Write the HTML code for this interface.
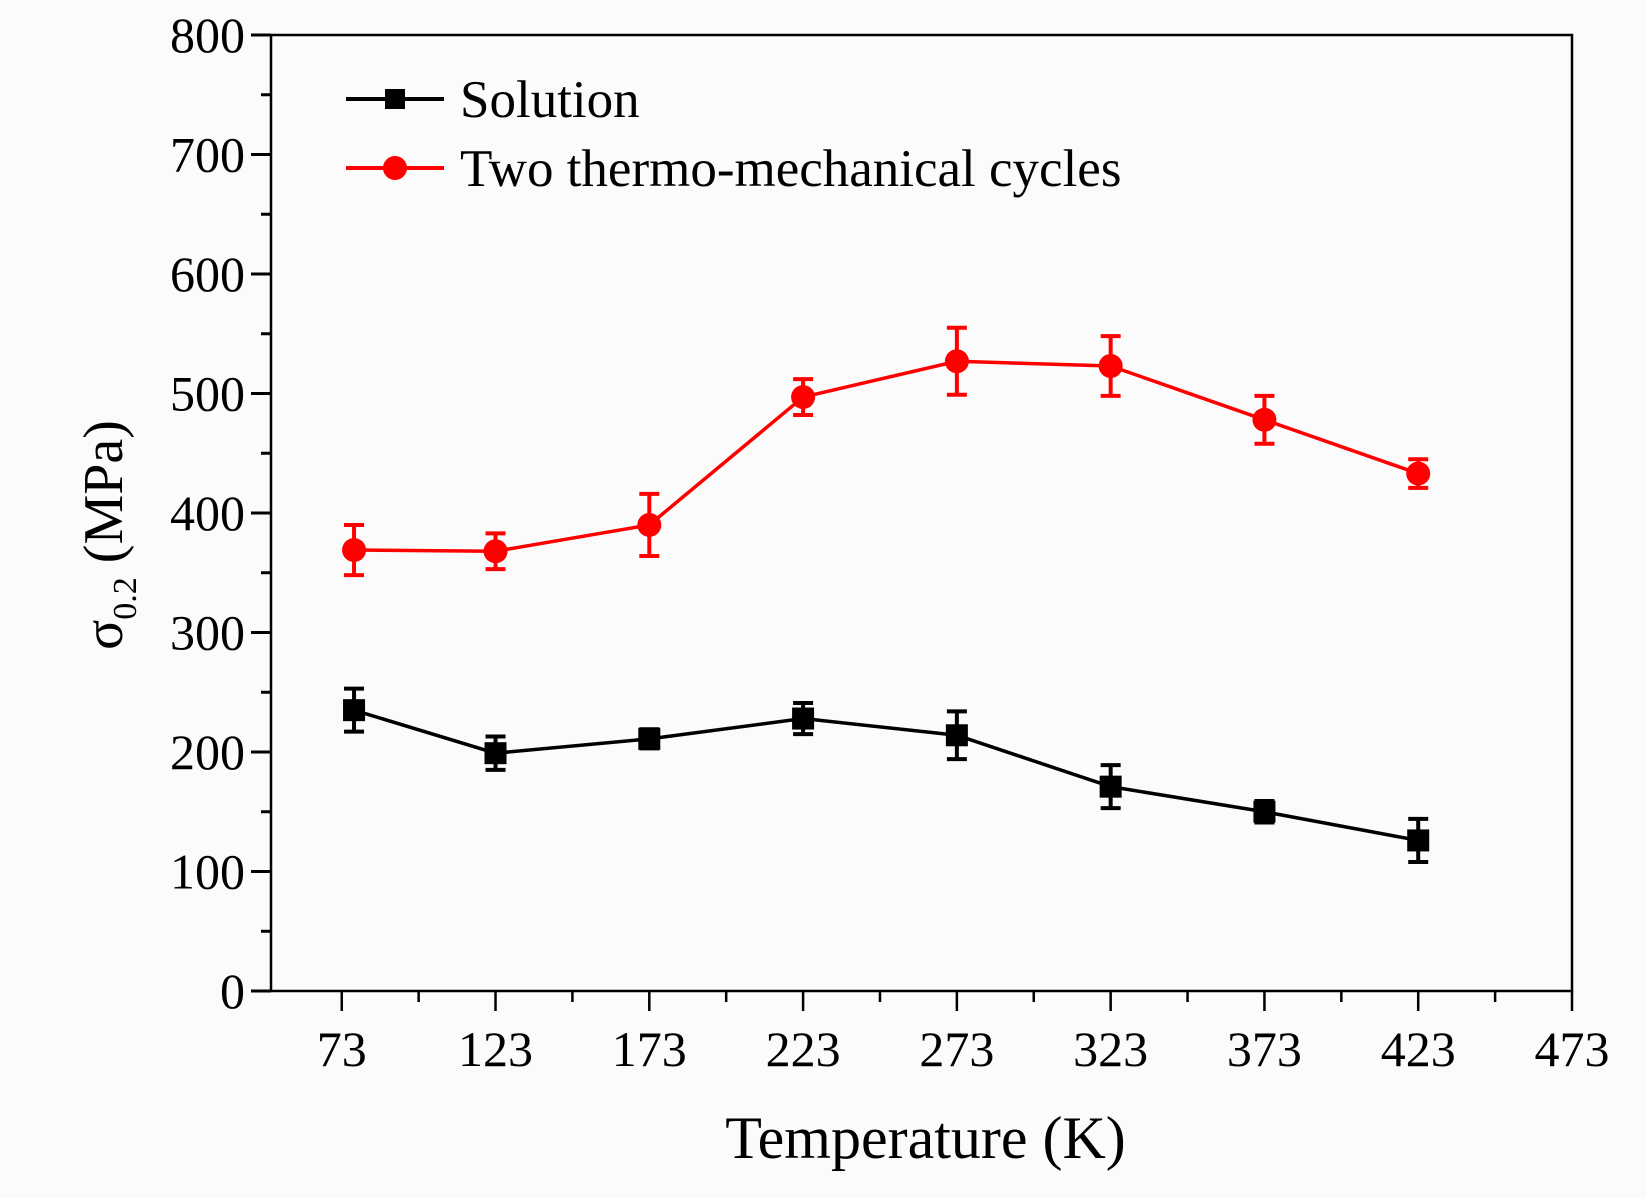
<!DOCTYPE html>
<html><head><meta charset="utf-8">
<style>
html,body{margin:0;padding:0;background:#fbfbfb;}
svg{display:block;font-family:"Liberation Serif",serif;}
</style></head>
<body>
<svg id="chart" width="1646" height="1198" viewBox="0 0 1646 1198">
<rect x="0" y="0" width="1646" height="1198" fill="#fbfbfb"/>
<g id="plot"></g>
</svg>
<script>
const temps = [77, 123, 173, 223, 273, 323, 373, 423];
const solutionVals = [235, 199, 211, 228, 214, 171, 150, 126];
const solutionErr = [18, 14, 8, 13, 20, 18, 9, 18];
const tmcVals = [369, 368, 390, 497, 527, 523, 478, 433];
const tmcErr = [21, 15, 26, 15, 28, 25, 20, 12];
const xTickLabels = [73, 123, 173, 223, 273, 323, 373, 423, 473];
const yTickLabels = [0, 100, 200, 300, 400, 500, 600, 700, 800];

const L = 271, R = 1572, T = 35, B = 991;
const xMin = 50, xMax = 473, yMin = 0, yMax = 800;
const xs = v => L + (v - xMin) / (xMax - xMin) * (R - L);
const ys = v => B - (v - yMin) / (yMax - yMin) * (B - T);
const NS = "http://www.w3.org/2000/svg";
const g = document.getElementById('plot');
function mk(tag, attrs, parent) {
  const e = document.createElementNS(NS, tag);
  for (const k in attrs) e.setAttribute(k, attrs[k]);
  (parent || g).appendChild(e);
  return e;
}

const frame = mk('rect', {x: L, y: T, width: R - L, height: B - T, fill: 'none', stroke: '#000', 'stroke-width': 2.5});



yTickLabels.forEach(v => {
  const y = ys(v);
  const t = mk('line', {x1: L - 20, x2: L, y1: y, y2: y, stroke: '#000', 'stroke-width': 3});
  
  
  const lb = mk('text', {x: L - 26, y: y + 17, 'font-size': 50, 'text-anchor': 'end'});
  lb.textContent = v;
  
  
  if (v < 800) {
    const m = mk('line', {x1: L - 10, x2: L, y1: ys(v + 50), y2: ys(v + 50), stroke: '#000', 'stroke-width': 3});
    
    
  }
});
xTickLabels.forEach((v, i) => {
  const x = xs(v);
  const t = mk('line', {x1: x, x2: x, y1: B, y2: B + 20, stroke: '#000', 'stroke-width': 2.5});
  
  
  const lb = mk('text', {x: x, y: B + 75, 'font-size': 50, 'text-anchor': 'middle'});
  lb.textContent = v;
  
  
  if (i < xTickLabels.length - 1) {
    const mx = xs(v + 25);
    const m = mk('line', {x1: mx, x2: mx, y1: B, y2: B + 11, stroke: '#000', 'stroke-width': 2.5});
    
    
  }
});

const xt = mk('text', {x: (L + R) / 2 + 4, y: 1158, 'font-size': 60, 'text-anchor': 'middle'});
xt.textContent = 'Temperature (K)';


const yt = mk('text', {x: 0, y: 0, 'font-size': 56, 'text-anchor': 'middle', transform: 'translate(122,535) rotate(-90)'});
yt.innerHTML = 'σ<tspan font-size="34" dy="14">0.2</tspan><tspan dy="-14"> (MPa)</tspan>';



function series(vals, errs, color, marker, name) {
  const grp = mk('g', {});
  
  
  const pts = temps.map((t, i) => xs(t) + ',' + ys(vals[i])).join(' ');
  const pl = mk('polyline', {points: pts, fill: 'none', stroke: color, 'stroke-width': 3.5}, grp);
  
  
  temps.forEach((t, i) => {
    const x = xs(t), y1 = ys(vals[i] + errs[i]), y2 = ys(vals[i] - errs[i]);
    const eb = mk('path', {d: `M${x},${y1}V${y2}M${x-10},${y1}H${x+10}M${x-10},${y2}H${x+10}`, stroke: color, 'stroke-width': 4, fill: 'none'}, grp);
    
    
    let m;
    if (marker === 'sq') m = mk('rect', {x: x - 11, y: ys(vals[i]) - 11, width: 22, height: 22, fill: color}, grp);
    else m = mk('circle', {cx: x, cy: ys(vals[i]), r: 12, fill: color}, grp);
    
    
  });
}
series(solutionVals, solutionErr, '#000', 'sq', 'solution');
series(tmcVals, tmcErr, '#ff0000', 'ci', 'tmc');

const lg = mk('g', {});


const l1 = mk('line', {x1: 346, x2: 444, y1: 99, y2: 99, stroke: '#000', 'stroke-width': 4}, lg);


const r1 = mk('rect', {x: 385, y: 89, width: 20, height: 20, fill: '#000'}, lg);


const t1 = mk('text', {x: 460, y: 117, 'font-size': 53}, lg);
t1.textContent = 'Solution';


const l2 = mk('line', {x1: 346, x2: 444, y1: 168, y2: 168, stroke: '#ff0000', 'stroke-width': 4}, lg);


const c2 = mk('circle', {cx: 395, cy: 168, r: 12, fill: '#ff0000'}, lg);


const t2 = mk('text', {x: 460, y: 186, 'font-size': 53}, lg);
t2.textContent = 'Two thermo-mechanical cycles';


</script>
</body></html>
